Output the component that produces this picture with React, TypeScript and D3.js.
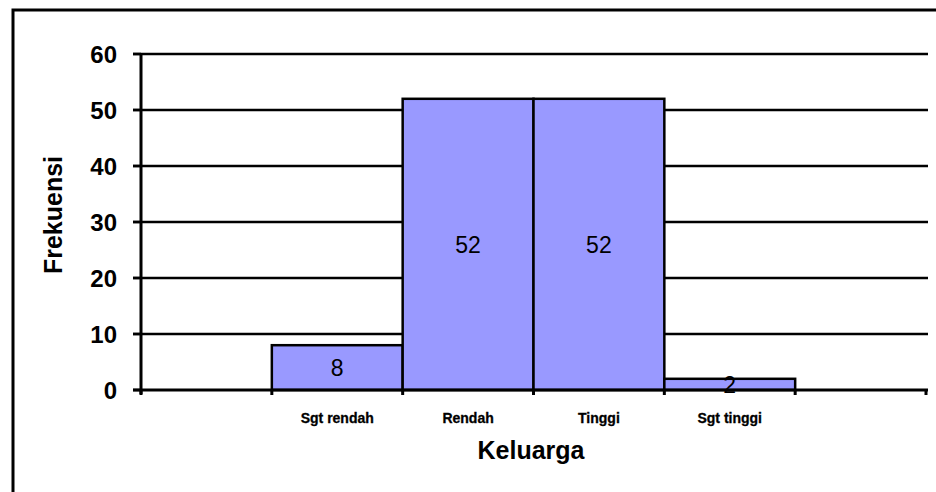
import React from "react";
import * as d3 from "d3";

const categories = ["", "Sgt rendah", "Rendah", "Tinggi", "Sgt tinggi", ""];
const values: (number | null)[] = [null, 8, 52, 52, 2, null];
const yTicks = [0, 10, 20, 30, 40, 50, 60];
const yTitle = "Frekuensi";
const xTitle = "Keluarga";

const W = 936;
const H = 492;
const plot = { left: 141, right: 926, top: 54, bottom: 390 };
const FONT = "'Liberation Sans', Arial, sans-serif";

export default function App() {
  const idx = categories.map((_, i) => String(i));
  const x = d3.scaleBand<string>().domain(idx).range([plot.left, plot.right]).padding(0);
  const y = d3.scaleLinear().domain([0, 60]).range([plot.bottom, plot.top]);
  const bw = x.bandwidth();
  const boundaries = d3.range(categories.length + 1).map((i) => plot.left + i * bw);

  return (
    <svg
      width={W}
      height={H}
      style={{ position: "absolute", left: 0, top: 0, background: "#fff" }}
      fontFamily={FONT}
    >
      <rect x={0} y={0} width={W} height={H} fill="#fff" />
      {/* outer frame */}
      <rect x={13} y={10} width={W + 20} height={H + 20} fill="none" stroke="#000" strokeWidth={3} />

      {/* gridlines */}
      {yTicks.filter((t) => t > 0).map((t) => (
        <line key={"g" + t} x1={133} x2={928} y1={y(t)} y2={y(t)} stroke="#000" strokeWidth={2.3} />
      ))}

      {/* bars */}
      {values.map((v, i) =>
        v == null ? null : (
          <rect
            key={"b" + i}
            x={x(String(i))!}
            y={y(v)}
            width={bw}
            height={y(0) - y(v)}
            fill="#9999FF"
            stroke="#000"
            strokeWidth={2.5}
          />
        )
      )}

      {/* y axis */}
      <line x1={plot.left} x2={plot.left} y1={plot.top} y2={plot.bottom + 4} stroke="#000" strokeWidth={3} />
      {yTicks.map((t) => (
        <g key={"yt" + t}>
          <line x1={133} x2={plot.left} y1={y(t)} y2={y(t)} stroke="#000" strokeWidth={2.5} />
          <text
            x={117}
            y={y(t)}
            dy="0.36em"
            textAnchor="end"
            fontSize={24}
            fontWeight="bold"
          >
            {t}
          </text>
        </g>
      ))}

      {/* x axis */}
      <line x1={133} x2={928} y1={plot.bottom} y2={plot.bottom} stroke="#000" strokeWidth={3} />
      {boundaries.map((b, i) => (
        <line key={"xt" + i} x1={b} x2={b} y1={plot.bottom} y2={plot.bottom + 5} stroke="#000" strokeWidth={3} />
      ))}
      {categories.map((c, i) => (
        <text
          key={"xl" + i}
          x={x(String(i))! + bw / 2}
          y={418}
          dy="0.35em"
          textAnchor="middle"
          fontSize={14}
          fontWeight="bold"
          stroke="#000"
          strokeWidth={0.3}
        >
          {c}
        </text>
      ))}

      {/* value labels */}
      {values.map((v, i) =>
        v == null ? null : (
          <text
            key={"v" + i}
            x={x(String(i))! + bw / 2}
            y={(y(v) + y(0)) / 2}
            dy="0.36em"
            textAnchor="middle"
            fontSize={23}
          >
            {v}
          </text>
        )
      )}

      {/* axis titles */}
      <text
        transform={`translate(62,215) rotate(-90)`}
        textAnchor="middle"
        fontSize={25}
        fontWeight="bold"
      >
        {yTitle}
      </text>
      <text x={531} y={459} textAnchor="middle" fontSize={25} fontWeight="bold">
        {xTitle}
      </text>
    </svg>
  );
}
